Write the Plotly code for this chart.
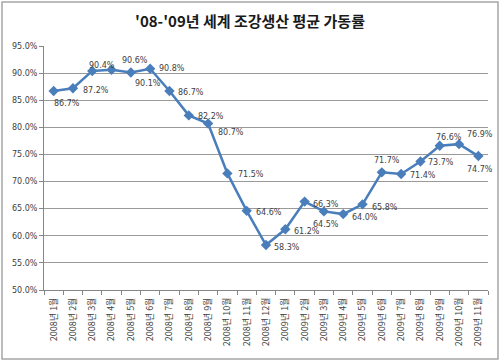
import plotly.graph_objects as go

months = ["2008년 1월", "2008년 2월", "2008년 3월", "2008년 4월", "2008년 5월", "2008년 6월",
          "2008년 7월", "2008년 8월", "2008년 9월", "2008년 10월", "2008년 11월", "2008년 12월",
          "2009년 1월", "2009년 2월", "2009년 3월", "2009년 4월", "2009년 5월", "2009년 6월",
          "2009년 7월", "2009년 8월", "2009년 9월", "2009년 10월", "2009년 11월"]
rates = [86.7, 87.2, 90.4, 90.6, 90.1, 90.8, 86.7, 82.2, 80.7, 71.5, 64.6, 58.3,
         61.2, 66.3, 64.5, 64.0, 65.8, 71.7, 71.4, 73.7, 76.6, 76.9, 74.7]
title_text = "'08-'09년 세계 조강생산 평균 가동률"

# label offsets in pixels (dx right, dy down) relative to each point -- styling only
label_dx = [13, 23, 10, 23, 17, 22, 22, 22, 23, 24, 22, 21, 22, 21, 2, 22, 22, 5, 22, 21, 9, 21, 2]
label_dy = [12, 2, -5, -9, 11, 0, 1, 1, 9, 1, 2, 2, 2, 3, 13, 3, 3, -12, 2, 1, -8, -10, 13]

FONT = "DejaVu Sans"
GRAY = "#868686"

fig = go.Figure()
fig.add_trace(go.Scatter(
    x=months, y=rates, mode="lines+markers",
    line=dict(color="#4a7ebb", width=2.5),
    marker=dict(symbol="diamond", size=8, color="#4a7ebb"),
    cliponaxis=False, showlegend=False, hoverinfo="skip",
))

annotations = []
for m, v, dx, dy in zip(months, rates, label_dx, label_dy):
    annotations.append(dict(
        x=m, y=v, xref="x", yref="y", text=f"{v:.1f}%", showarrow=False,
        xanchor="center", yanchor="middle", xshift=dx, yshift=-dy,
        font=dict(family=FONT, size=8, color="#404040"),
    ))

fig.update_layout(
    width=500, height=362,
    margin=dict(l=44, r=12, t=46, b=72),
    paper_bgcolor="white", plot_bgcolor="white",
    title=dict(text="<b>" + title_text + "</b>", x=0.5, xanchor="center", y=0.94, yanchor="middle",
               font=dict(family="Noto Sans CJK KR", size=15, color="#1a1a1a")),
    xaxis=dict(type="category", range=[-0.5, len(months) - 0.5], tickson="boundaries",
               ticks="outside", ticklen=4, tickcolor=GRAY,
               showline=True, linecolor=GRAY, linewidth=1,
               showgrid=False, tickangle=-90, ticklabelstandoff=3,
               tickfont=dict(family="Noto Sans CJK KR", size=9, color="#404040")),
    yaxis=dict(range=[50, 95], dtick=5, tickformat=".1f", ticksuffix="%",
               ticks="outside", ticklen=4, tickcolor=GRAY,
               showline=True, linecolor=GRAY, linewidth=1,
               showgrid=True, gridcolor="#9a9a9a", gridwidth=1, zeroline=False,
               tickfont=dict(family=FONT, size=8, color="#404040")),
    annotations=annotations,
    shapes=[dict(type="rect", xref="paper", yref="paper",
                 x0=-0.0946, x1=1.0225, y0=-0.2828, y1=1.1803,
                 line=dict(color="#a6a6a6", width=1.5), fillcolor="rgba(0,0,0,0)",
                 layer="above")],
)

fig.write_html("out.html", config={"displayModeBar": False},
               post_script="document.body.style.margin='0px';")
